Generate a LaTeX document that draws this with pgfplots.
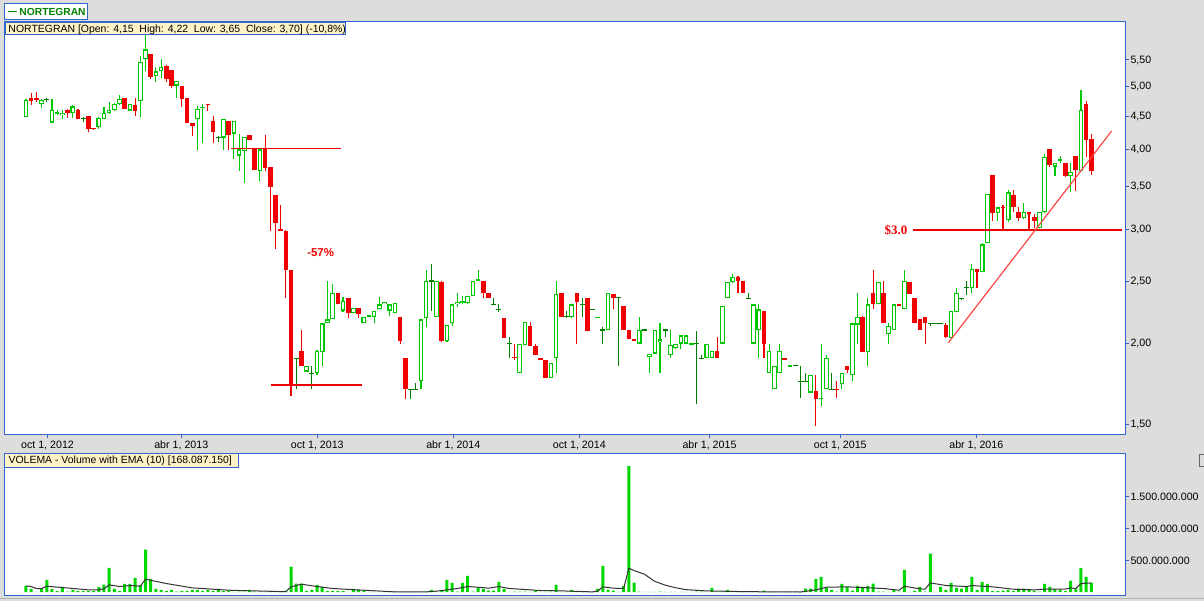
\documentclass[border=0pt]{standalone}
\usepackage{fontspec}
\setmainfont{Liberation Sans}
\newfontfamily\lserif{Liberation Serif}
\usepackage{pgfplots}
\usepackage{pgfplotstable}
\pgfplotsset{compat=1.18}

\definecolor{bg}{RGB}{221,222,219}
\definecolor{frameblue}{RGB}{51,102,204}
\definecolor{upgreen}{RGB}{0,200,0}
\definecolor{dojigreen}{RGB}{0,128,0}
\definecolor{downred}{RGB}{240,0,0}
\definecolor{trendred}{RGB}{255,70,70}
\definecolor{infoyellow}{RGB}{255,242,198}
\definecolor{volgreen}{RGB}{0,215,0}

\pgfplotstableread{
i o h l c v
1 4.49 4.79 4.49 4.77 99
2 4.80 4.89 4.69 4.75 47
3 4.80 4.90 4.74 4.76 5
4 4.70 4.79 4.63 4.77 58
5 4.78 4.81 4.74 4.78 194
6 4.40 4.78 4.40 4.60 47
7 4.54 4.60 4.52 4.56 16
8 4.52 4.60 4.45 4.56 84
9 4.60 4.61 4.47 4.55 10
10 4.55 4.68 4.47 4.66 37
11 4.60 4.61 4.45 4.45 16
12 4.46 4.49 4.41 4.46 16
13 4.50 4.50 4.25 4.30 16
14 4.32 4.32 4.29 4.30 16
15 4.33 4.49 4.30 4.47 84
16 4.46 4.65 4.46 4.55 120
17 4.55 4.74 4.54 4.60 382
18 4.60 4.71 4.59 4.70 52
19 4.70 4.85 4.68 4.79 16
20 4.81 4.81 4.61 4.62 131
21 4.59 4.70 4.59 4.70 131
22 4.69 4.80 4.51 4.59 225
23 4.75 5.57 4.49 5.46 110
24 5.51 6.01 5.29 5.71 670
25 5.61 5.61 5.14 5.18 209
26 5.19 5.37 5.09 5.28 52
27 5.28 5.51 5.15 5.37 37
28 5.39 5.40 5.09 5.14 16
29 5.31 5.31 4.98 5.01 37
30 5.02 5.10 4.81 5.10 10
31 5.02 5.02 4.65 4.79 16
32 4.80 4.80 4.39 4.39 16
33 4.40 4.40 4.20 4.34 37
34 4.46 4.67 3.99 4.62 37
35 4.63 4.70 4.09 4.65 16
36 4.70 4.70 4.59 4.68 37
37 4.43 4.51 4.09 4.25 16
38 4.17 4.20 4.10 4.17 52
39 4.17 4.46 3.99 4.46 16
40 4.42 4.42 3.99 4.21 16
41 4.23 4.42 3.86 4.42 5
42 3.91 4.22 3.70 4.00 10
43 3.98 4.18 3.55 4.18 10
44 4.21 4.21 4.13 4.13 37
45 4.00 4.00 3.71 3.71 10
46 3.70 4.00 3.57 4.00 10
47 4.02 4.21 3.70 3.74 10
48 3.76 3.76 2.99 3.50 21
49 3.40 3.40 2.80 3.08 10
50 3.01 3.28 2.99 2.99 10
51 2.99 3.00 2.35 2.60 21
52 2.60 2.60 1.66 1.73 403
53 1.90 1.90 1.70 1.90 136
54 1.95 2.10 1.85 1.85 136
55 1.81 1.85 1.81 1.85 16
56 1.80 1.85 1.70 1.80 37
57 1.80 1.955 1.79 1.95 115
58 1.94 2.15 1.85 2.15 84
59 2.15 2.50 2.15 2.18 16
60 2.18 2.47 2.18 2.40 16
61 2.40 2.40 2.30 2.30 16
62 2.25 2.36 2.24 2.33 16
63 2.35 2.35 2.19 2.23 5
64 2.23 2.27 2.23 2.27 52
65 2.27 2.27 2.19 2.22 37
66 2.15 2.20 2.15 2.20 16
67 2.20 2.21 2.20 2.21 5
68 2.20 2.25 2.15 2.25 5
69 2.26 2.36 2.26 2.30 5
70 2.30 2.32 2.30 2.32 5
71 2.25 2.30 2.21 2.30 5
72 2.23 2.31 2.23 2.31 10
73 2.20 2.20 2.00 2.02 5
74 1.90 1.90 1.64 1.70 5
75 1.70 1.70 1.64 1.70 5
76 1.70 1.74 1.70 1.70 5
77 1.75 2.18 1.70 2.18 5
78 2.19 2.60 2.12 2.50 10
79 2.50 2.66 2.25 2.50 37
80 2.20 2.50 2.20 2.50 5
81 2.49 2.50 2.01 2.02 21
82 2.02 2.14 2.01 2.14 194
83 2.15 2.30 2.13 2.30 146
84 2.30 2.40 2.28 2.32 10
85 2.31 2.37 2.30 2.33 146
86 2.31 2.37 2.30 2.37 256
87 2.37 2.50 2.37 2.50 10
88 2.50 2.60 2.50 2.51 73
89 2.50 2.50 2.35 2.40 52
90 2.40 2.40 2.35 2.35 26
91 2.30 2.35 2.30 2.30 26
92 2.26 2.30 2.24 2.26 162
93 2.19 2.19 2.04 2.04 52
94 2.00 2.05 1.90 2.00 5
95 1.91 2.00 1.89 1.90 10
96 1.80 2.00 1.80 2.00 10
97 1.99 2.16 1.99 2.16 10
98 2.13 2.16 1.98 1.98 5
99 1.98 2.00 1.92 1.92 21
100 1.90 1.90 1.89 1.89 5
101 1.89 1.89 1.77 1.77 5
102 1.77 1.87 1.77 1.87 10
103 1.90 2.50 1.80 2.39 115
104 2.40 2.40 2.20 2.20 5
105 2.20 2.25 2.19 2.20 5
106 2.20 2.30 2.19 2.30 37
107 2.40 2.40 2.00 2.32 5
108 2.30 2.35 2.20 2.30 5
109 2.35 2.35 2.09 2.09 5
110 2.26 2.26 2.26 2.26 5
111 2.19 2.20 2.19 2.20 52
112 2.10 2.12 2.00 2.10 413
113 2.10 2.40 2.10 2.40 37
114 2.39 2.39 2.26 2.35 26
115 2.36 2.36 1.85 2.36 5
116 2.29 2.29 2.10 2.10 99
117 2.10 2.10 2.03 2.03 1980
118 2.03 2.03 2.02 2.02 152
119 2.00 2.20 2.00 2.10 10
120 2.10 2.10 2.10 2.10 5
121 1.91 1.93 1.80 1.93 5
122 1.93 2.10 1.93 2.10 5
123 2.01 2.15 1.80 2.03 10
124 2.10 2.10 2.05 2.10 5
125 1.92 2.10 1.90 1.99 5
126 1.97 2.00 1.96 2.00 5
127 2.00 2.06 1.96 2.06 5
128 2.00 2.06 2.00 2.06 5
129 1.99 2.00 1.99 2.00 5
130 2.00 2.09 1.61 2.00 10
131 1.90 1.92 1.90 1.90 10
132 1.90 2.00 1.90 2.00 5
133 1.90 1.95 1.90 1.95 68
134 1.95 2.05 1.90 1.90 5
135 2.00 2.29 2.00 2.29 10
136 2.35 2.49 2.35 2.49 37
137 2.49 2.56 2.48 2.54 16
138 2.54 2.55 2.40 2.50 5
139 2.50 2.50 2.40 2.40 5
140 2.35 2.40 2.35 2.35 5
141 2.00 2.30 2.00 2.30 5
142 2.10 2.30 1.90 2.26 5
143 2.25 2.25 1.90 2.00 26
144 1.80 2.00 1.80 1.95 5
145 1.70 1.85 1.70 1.85 5
146 1.80 2.00 1.80 1.95 5
147 1.90 1.90 1.89 1.89 5
148 1.84 1.85 1.84 1.85 5
149 1.85 1.85 1.85 1.85 5
150 1.75 1.85 1.65 1.75 5
151 1.75 1.80 1.75 1.75 58
152 1.68 1.79 1.68 1.79 58
153 1.69 1.79 1.49 1.64 209
154 1.64 2.00 1.60 1.645 241
155 1.70 1.92 1.70 1.90 73
156 1.70 1.80 1.70 1.70 37
157 1.70 1.75 1.65 1.695 10
158 1.73 1.80 1.70 1.80 131
159 1.85 1.85 1.80 1.82 84
160 1.79 2.15 1.75 2.15 26
161 2.14 2.40 2.00 2.20 99
162 2.20 2.21 1.94 1.94 84
163 1.94 2.35 1.85 2.30 99
164 2.40 2.60 2.26 2.30 136
165 2.30 2.49 2.30 2.49 10
166 2.40 2.50 2.15 2.15 10
167 2.07 2.15 2.00 2.13 5
168 2.10 2.30 2.10 2.30 37
169 2.30 2.30 2.29 2.29 10
170 2.26 2.60 2.26 2.50 350
171 2.49 2.49 2.39 2.39 5
172 2.35 2.35 2.15 2.15 21
173 2.18 2.18 2.10 2.10 84
174 2.20 2.20 2.00 2.15 10
175 2.15 2.15 2.13 2.15 605
176 2.15 2.15 2.15 2.15 5
177 2.15 2.15 2.15 2.15 84
178 2.14 2.15 2.04 2.05 37
179 2.04 2.25 2.04 2.25 146
180 2.24 2.44 2.24 2.40 68
181 2.35 2.35 2.34 2.35 58
182 2.44 2.50 2.38 2.44 94
183 2.44 2.66 2.40 2.61 241
184 2.61 2.61 2.44 2.58 37
185 2.58 2.86 2.58 2.85 162
186 2.86 3.41 2.86 3.41 131
187 3.65 3.65 3.10 3.19 16
188 3.19 3.25 3.10 3.25 16
189 3.25 3.28 2.99 3.24 26
190 3.11 3.46 3.09 3.43 37
191 3.40 3.46 3.20 3.25 16
192 3.20 3.26 3.10 3.13 58
193 3.13 3.30 3.12 3.20 58
194 3.20 3.20 3.01 3.17 37
195 3.14 3.17 3.02 3.10 21
196 3.02 3.20 3.02 3.20 10
197 3.20 3.94 3.19 3.89 131
198 4.00 4.00 3.76 3.78 84
199 3.76 3.81 3.64 3.81 47
200 3.84 3.90 3.81 3.85 37
201 3.81 3.81 3.62 3.64 16
202 3.64 3.81 3.43 3.69 178
203 3.90 3.90 3.45 3.72 52
204 3.70 4.95 3.70 4.60 377
205 4.70 4.75 3.89 4.14 241
206 4.15 4.22 3.65 3.70 146
}\candles

\pgfplotstableread{
i e
1 99
2 89
3 58
4 58
5 94
8 73
13 37
15 37
16 52
17 115
19 89
21 105
23 94
24 204
28 136
33 68
40 31
50 10
51 10
52 84
54 126
57 89
60 58
66 31
72 5
78 5
80 16
82 37
84 58
86 89
88 78
90 63
92 89
94 58
100 26
104 21
110 5
111 16
112 84
114 63
116 58
117 377
118 340
120 282
122 170
124 110
126 70
128 40
132 20
140 8
150 3
153 37
155 78
159 84
166 58
169 31
170 94
173 52
174 47
175 146
178 105
182 89
183 105
187 84
191 47
195 37
197 47
201 47
202 68
203 58
204 136
206 146
}\ema

\pgfplotsset{
  upc/.style={restrict expr to domain={\thisrow{c}-\thisrow{o}}{0.000001:1000}},
  dnc/.style={restrict expr to domain={\thisrow{c}-\thisrow{o}}{-1000:-0.000001}},
  djc/.style={restrict expr to domain={\thisrow{c}-\thisrow{o}}{-0.000001:0.000001}},
  ebar/.style={only marks, mark=*, mark size=0pt, mark options={draw=none, fill=none},
    error bars/y dir=plus, error bars/y explicit, error bars/error mark=none,
    error bars/error bar style={#1}},
  lbl/.style={font=\fontsize{10.7}{12}\selectfont},
}

\begin{document}
\begin{tikzpicture}
\fill[bg] (0,0) rectangle (1204bp,601bp);
\draw[black!30, line width=1bp] (0,2bp) -- (1204bp,2bp);

% ---------------- price panel ----------------
\begin{axis}[
  at={(4.3bp,166.7bp)}, anchor=south west,
  scale only axis, width=1121bp, height=412.3bp,
  xmin=-3.175, xmax=212.53,
  ymode=log, ymin=1.4475, ymax=6.298,
  axis background/.style={fill=white},
  axis line style={draw=frameblue, line width=1bp},
  xtick={5.14,30.88,57.05,83.22,107.47,132.52,157.69,183.86},
  xticklabels={{oct 1, 2012},{abr 1, 2013},{oct 1, 2013},{abr 1, 2014},{oct 1, 2014},{abr 1, 2015},{oct 1, 2015},{abr 1, 2016}},
  ytick={1.5,2,2.5,3,3.5,4,4.5,5,5.5},
  yticklabels={{1,50},{2,00},{2,50},{3,00},{3,50},{4,00},{4,50},{5,00},{5,50}},
  xtick pos=left, ytick pos=right,
  xticklabel pos=left, yticklabel pos=right,
  tick align=outside, major tick length=4bp,
  every tick/.style={draw=frameblue, line width=1bp},
  xminorticks=false, yminorticks=false,
  ticklabel style={lbl, text=black},
  yticklabel style={anchor=west, inner sep=0pt, xshift=1bp},
  xticklabel style={anchor=north, inner sep=0pt, yshift=-2.5bp},
]
% wicks
\addplot[upc, ebar={draw=upgreen, line width=1.1bp}] table[x=i, y=l, y error plus expr={\thisrow{h}-\thisrow{l}}]{\candles};
\addplot[dnc, ebar={draw=downred, line width=1.1bp}] table[x=i, y=l, y error plus expr={\thisrow{h}-\thisrow{l}}]{\candles};
\addplot[djc, ebar={draw=dojigreen, line width=1.1bp}] table[x=i, y=l, y error plus expr={\thisrow{h}-\thisrow{l}}]{\candles};
% bodies
\addplot[dnc, ebar={draw=downred, line width=4.6bp}] table[x=i, y=c, y error plus expr={max(\thisrow{o}-\thisrow{c},0.004*\thisrow{c})}]{\candles};
\addplot[upc, ebar={draw=upgreen, line width=4.6bp}] table[x=i, y=o, y error plus expr={max(\thisrow{c}-\thisrow{o},0.006*\thisrow{o})}]{\candles};
\addplot[upc, ebar={draw=white, line width=2.5bp}] table[x=i, y expr=\thisrow{o}*1.0043, y error plus expr={max(\thisrow{c}/1.0043-\thisrow{o}*1.0043,0)}]{\candles};
\addplot[djc, ebar={draw=dojigreen, line width=5bp}] table[x=i, y expr=\thisrow{o}/1.002, y error plus expr={0.004*\thisrow{o}}]{\candles};
% annotations
\addplot[draw=downred, line width=1.4bp, mark=none] coordinates {(40.45,4.011) (61.55,4.011)};
\addplot[draw=downred, line width=1.4bp, mark=none] coordinates {(48.14,1.726) (65.6,1.726)};
\addplot[draw=downred, line width=1.4bp, mark=none] coordinates {(171.7,3.0) (211.8,3.0)};
\addplot[draw=trendred, line width=1.2bp, mark=none] coordinates {(178.5,2.007) (209.9,4.27)};
\node[text=downred, font=\bfseries\fontsize{11.5}{12}\selectfont] at (axis cs:57.7,2.768) {-57\%};
\node[text=downred, font=\lserif\bfseries\fontsize{13}{14}\selectfont] at (axis cs:168.4,3.0) {\$3.0};
\end{axis}

% ---------------- volume panel ----------------
\begin{axis}[
  at={(4.3bp,6bp)}, anchor=south west,
  scale only axis, width=1121bp, height=141.7bp,
  xmin=-3.175, xmax=212.53,
  ymin=-44, ymax=2180,
  axis background/.style={fill=white},
  axis line style={draw=frameblue, line width=1bp},
  xtick=\empty,
  ytick={500,1000,1500},
  yticklabels={{500.000.000},{1.000.000.000},{1.500.000.000}},
  ytick pos=right, yticklabel pos=right,
  tick align=outside, major tick length=4bp,
  every tick/.style={draw=frameblue, line width=1bp},
  yminorticks=false,
  ticklabel style={lbl, text=black},
  yticklabel style={anchor=west, inner sep=0pt, xshift=1bp},
]
\addplot[ybar, bar width=3bp, fill=volgreen, draw=none] table[x=i, y=v]{\candles};
\addplot[black!80, line width=1bp, mark=none] table[x=i, y=e]{\ema};
\end{axis}

% ---------------- overlays ----------------
\begin{scope}[x=1bp, y=1bp]
\draw[frameblue, fill=white, line width=1bp] (4,581.7) rectangle (87.3,597);
\draw[dojigreen, line width=1.2bp] (8,589.5) -- (17,589.5);
\node[anchor=base west, inner sep=0pt, text=dojigreen, font=\bfseries\fontsize{10.3}{12}\selectfont] at (19.3,585.2) {NORTEGRAN};
\draw[frameblue, fill=infoyellow, line width=1bp] (5.7,566) rectangle (345.3,578.3);
\node[anchor=base west, inner sep=0pt, font=\fontsize{10.5}{12}\selectfont] at (8.3,568.7) {NORTEGRAN [Open: 4,15\ \ High: 4,22\ \ Low: 3,65\ \ Close: 3,70] (-10,8\%)};
\draw[frameblue, fill=infoyellow, line width=1bp] (4.6,133.7) rectangle (238.8,147.3);
\node[anchor=base west, inner sep=0pt, font=\fontsize{10.5}{12}\selectfont] at (8.4,137.5) {VOLEMA - Volume with EMA (10) [168.087.150]};
\draw[black!60, line width=1bp] (1199.5,134) rectangle (1210,146);
\end{scope}

\pgfresetboundingbox
\useasboundingbox (0,0) rectangle (1204bp,601bp);
\end{tikzpicture}
\end{document}
